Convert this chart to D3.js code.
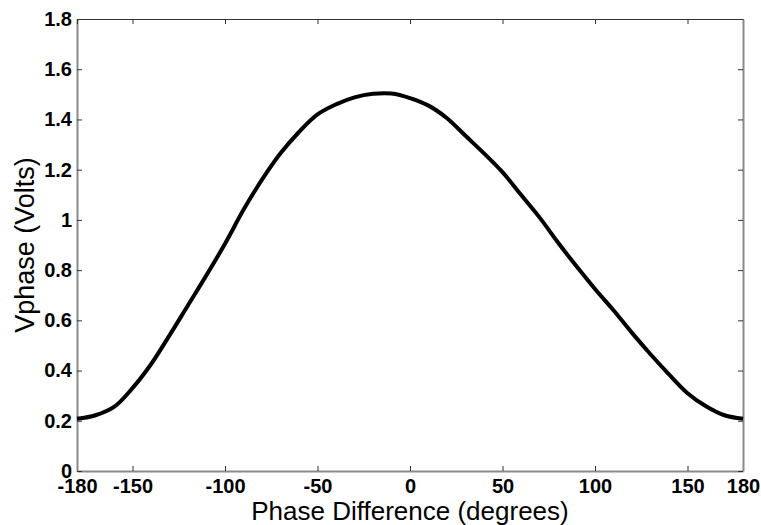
<!DOCTYPE html>
<html>
<head>
<meta charset="utf-8">
<script src="https://cdn.jsdelivr.net/npm/d3@7"></script>
<style>
  body { margin: 0; background: #fff; }
  svg { display: block; font-family: 'Liberation Sans', Arial, sans-serif; }
</style>
</head>
<body>
<figure style="margin:0"></figure>
<script>
// phase difference (degrees) and measured Vphase (volts)
const phase = [-180, -170, -160, -150, -140, -130, -120, -110, -100, -90, -80, -70, -60, -50, -40, -30, -20, -10,
  0, 10, 20, 30, 40, 50, 60, 70, 80, 90, 100, 110, 120, 130, 140, 150, 160, 170, 180]
const vphase = [0.208, 0.222, 0.255, 0.330, 0.425, 0.540, 0.660, 0.780, 0.905, 1.040, 1.160, 1.265, 1.350, 1.420, 1.460, 1.488, 1.502, 1.503,
  1.485, 1.455, 1.405, 1.335, 1.265, 1.190, 1.100, 1.010, 0.910, 0.815, 0.725, 0.640, 0.550, 0.465, 0.385, 0.310, 0.258, 0.222, 0.208]

const xTicks = [-180, -150, -100, -50, 0, 50, 100, 150, 180]
const yTicks = [0, 0.2, 0.4, 0.6, 0.8, 1, 1.2, 1.4, 1.6, 1.8]

const xLabel = 'Phase Difference (degrees)'
const yLabel = 'Vphase (Volts)'

const width = 761
const height = 525
const margin = { top: 19, right: 18, bottom: 54, left: 77 }

const x = d3.scaleLinear().domain([-180, 180]).range([margin.left, width - margin.right])
const y = d3.scaleLinear().domain([0, 1.8]).range([height - margin.bottom, margin.top])

const svg = d3.select('figure').append('svg')
  .attr('width', width)
  .attr('height', height)

svg.append('rect')
  .attr('width', width)
  .attr('height', height)
  .attr('fill', '#fff')

// plain hyphen minus like the original, not the unicode one d3.format gives
const fmt = d => String(d)

// bottom + left axes carry the labels
const xAxis = svg.append('g')
  .attr('transform', `translate(0,${y(0)})`)
  .call(d3.axisBottom(x).tickValues(xTicks).tickFormat(fmt).tickSizeInner(-5).tickSizeOuter(0).tickPadding(8))

const yAxis = svg.append('g')
  .attr('transform', `translate(${x(-180)},0)`)
  .call(d3.axisLeft(y).tickValues(yTicks).tickFormat(fmt).tickSizeInner(-5).tickSizeOuter(0).tickPadding(5))

// top + right mirror axes, ticks only
const topAxis = svg.append('g')
  .attr('transform', `translate(0,${y(1.8)})`)
  .call(d3.axisTop(x).tickValues(xTicks).tickFormat('').tickSizeInner(-5).tickSizeOuter(0))

const rightAxis = svg.append('g')
  .attr('transform', `translate(${x(180)},0)`)
  .call(d3.axisRight(y).tickValues(yTicks).tickFormat('').tickSizeInner(-5).tickSizeOuter(0))

svg.selectAll('.tick line').attr('stroke', '#333').attr('stroke-width', 1)
xAxis.select('.domain').attr('stroke', '#8a8a8a').attr('stroke-width', 2)
yAxis.select('.domain').attr('stroke', '#8a8a8a').attr('stroke-width', 2)
rightAxis.select('.domain').attr('stroke', '#8a8a8a').attr('stroke-width', 2)
topAxis.select('.domain').attr('stroke', '#333').attr('stroke-width', 1.2)

svg.selectAll('.tick text')
  .attr('fill', '#000')
  .attr('font-size', 20)
  .attr('font-weight', 'bold')
  .attr('font-family', "'Liberation Sans', Arial, sans-serif")

// the curve
const line = d3.line()
  .x(d => x(d[0]))
  .y(d => y(d[1]))
  .curve(d3.curveCatmullRom.alpha(0.5))

svg.append('path')
  .datum(d3.zip(phase, vphase))
  .attr('fill', 'none')
  .attr('stroke', '#000')
  .attr('stroke-width', 4)
  .attr('stroke-linejoin', 'round')
  .attr('d', line)

// axis titles
svg.append('text')
  .attr('x', (x(-180) + x(180)) / 2)
  .attr('y', 520)
  .attr('text-anchor', 'middle')
  .attr('font-size', 26)
  .attr('fill', '#000')
  .text(xLabel)

svg.append('text')
  .attr('transform', `translate(33.5,${(y(0) + y(1.8)) / 2}) rotate(-90)`)
  .attr('text-anchor', 'middle')
  .attr('font-size', 27)
  .attr('fill', '#000')
  .text(yLabel)
</script>
</body>
</html>
